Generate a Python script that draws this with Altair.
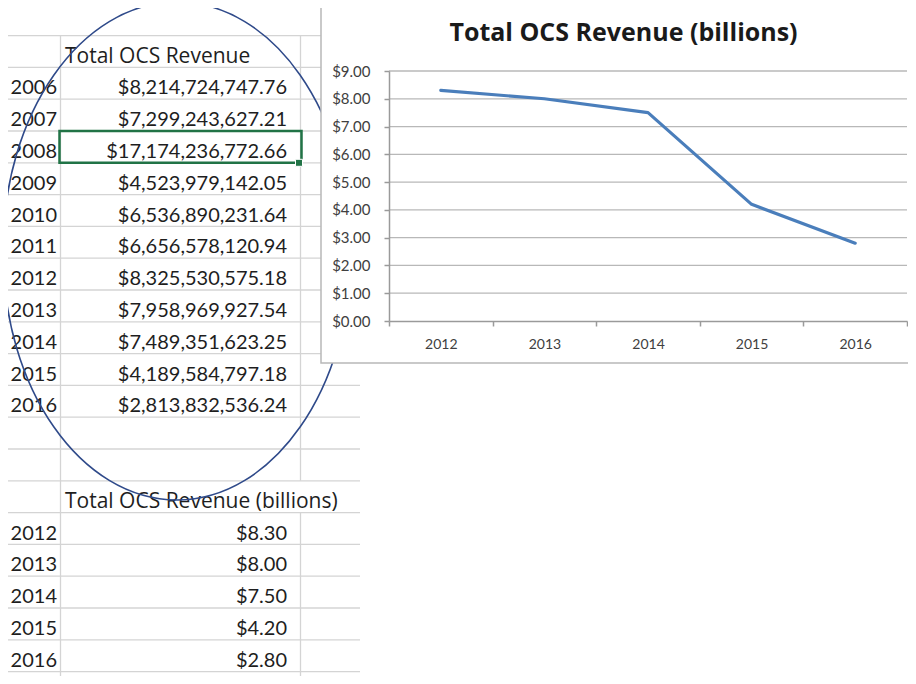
import altair as alt
import pandas as pd

# ---------------- data ----------------
years_top = ["2006", "2007", "2008", "2009", "2010", "2011",
             "2012", "2013", "2014", "2015", "2016"]
revenue_top = ["$8,214,724,747.76", "$7,299,243,627.21", "$17,174,236,772.66",
               "$4,523,979,142.05", "$6,536,890,231.64", "$6,656,578,120.94",
               "$8,325,530,575.18", "$7,958,969,927.54", "$7,489,351,623.25",
               "$4,189,584,797.18", "$2,813,832,536.24"]
years_bil = ["2012", "2013", "2014", "2015", "2016"]
revenue_bil = [8.30, 8.00, 7.50, 4.20, 2.80]
revenue_bil_text = ["$8.30", "$8.00", "$7.50", "$4.20", "$2.80"]
headers = ["Total OCS Revenue", "Total OCS Revenue (billions)"]
chart_title = ["Total OCS Revenue (billions)"]
y_ticks = [0, 1, 2, 3, 4, 5, 6, 7, 8, 9]

# ---------------- sheet layout (row indices) ----------------
HEAD1, HEAD2 = 0, 14
n_rows = 21
rows_top = pd.DataFrame({"r": [HEAD1 + 1 + i for i in range(len(years_top))],
                         "year": years_top, "val": revenue_top})
rows_bil = pd.DataFrame({"r": [HEAD2 + 1 + i for i in range(len(years_bil))],
                         "year": years_bil, "val": revenue_bil_text})
head_df = pd.DataFrame({"r": [HEAD1, HEAD2], "t": headers})
hline_df = pd.DataFrame({"b": [k - 0.5 for k in range(n_rows)]})
colA_df = pd.DataFrame({"b1": [-0.5], "b2": [n_rows + 0.5]})
colB_df = pd.DataFrame({"b1": [-0.5, HEAD2 + 0.5], "b2": [HEAD2 - 0.5, n_rows + 0.5]})
sel_df = pd.DataFrame({"b1": [2.5], "b2": [3.5]})
one_df = pd.DataFrame({"k": [0]})

chart_df = pd.DataFrame({"year": years_bil, "bil": revenue_bil})
grid_df = pd.DataFrame({"v": y_ticks[1:]})
title_df = pd.DataFrame({"t": chart_title})

FONT = "Lato"
HFONT = "Open Sans"
GRID_SHEET = "#D4D4D4"
TXT = "#1e1e1e"

row_scale = alt.Scale(domain=[0, 19], range=[43.5, 647.7], nice=False, zero=False)


def ry(field):
    return alt.Y(f"{field}:Q", scale=row_scale, axis=None)


hlines = alt.Chart(hline_df).mark_rule(color=GRID_SHEET, strokeWidth=1.3).encode(
    y=ry("b"), x=alt.value(0), x2=alt.value(352))
colA = alt.Chart(colA_df).mark_rule(color=GRID_SHEET, strokeWidth=1.3).encode(
    y=ry("b1"), y2="b2:Q", x=alt.value(52.5))
colB = alt.Chart(colB_df).mark_rule(color=GRID_SHEET, strokeWidth=1.3).encode(
    y=ry("b1"), y2="b2:Q", x=alt.value(292.5))

txt_kw = dict(color=TXT, baseline="alphabetic", dy=11)
yr_top = alt.Chart(rows_top).mark_text(align="right", font=FONT, fontSize=20, **txt_kw).encode(
    y=ry("r"), x=alt.value(49), text="year:N")
val_top = alt.Chart(rows_top).mark_text(align="right", font=FONT, fontSize=20, **txt_kw).encode(
    y=ry("r"), x=alt.value(279), text="val:N")
yr_bil = alt.Chart(rows_bil).mark_text(align="right", font=FONT, fontSize=20, **txt_kw).encode(
    y=ry("r"), x=alt.value(49), text="year:N")
val_bil = alt.Chart(rows_bil).mark_text(align="right", font=FONT, fontSize=20, **txt_kw).encode(
    y=ry("r"), x=alt.value(279), text="val:N")
heads = alt.Chart(head_df).mark_text(align="left", font=HFONT, fontSize=21, **txt_kw).encode(
    y=ry("r"), x=alt.value(57), text="t:N")

sel = alt.Chart(sel_df).mark_rect(filled=False, stroke="#217346", strokeWidth=2.5).encode(
    y=ry("b1"), y2="b2:Q", x=alt.value(51.5), x2=alt.value(293.5))
handle = alt.Chart(sel_df).mark_point(shape="square", filled=True, size=49, opacity=1,
                                      color="#217346", stroke="white", strokeWidth=1).encode(
    y=ry("b2"), x=alt.value(291))

ellipse_path = "M -0.699 0 A 0.699 1 0 1 1 0.699 0 A 0.699 1 0 1 1 -0.699 0 Z"
ellipse = alt.Chart(one_df).mark_point(shape=ellipse_path, size=248004, filled=False,
                                       opacity=1, stroke="#2F4A8A", strokeWidth=1.6).encode(
    x=alt.value(169), y=alt.value(243))

# ---------------- embedded chart ----------------
box = alt.Chart(one_df).mark_rect(fill="white", stroke="#B8B8B8", strokeWidth=1.5).encode(
    x=alt.value(313), x2=alt.value(910), y=alt.value(-10), y2=alt.value(355))

x_scale = alt.Scale(type="band", domain=years_bil, range=[381, 899],
                    paddingInner=0, paddingOuter=0)
y_scale = alt.Scale(domain=[0, 9], range=[313, 63], nice=False, zero=False)
AX = "#9A9A9A"
LBL = "#404040"

grid = alt.Chart(grid_df).mark_rule(color="#B8B8B8", strokeWidth=1.3).encode(
    y=alt.Y("v:Q", scale=y_scale, axis=None), x=alt.value(381), x2=alt.value(899))

line = alt.Chart(chart_df).mark_line(color="#4A7EBB", strokeWidth=3.2,
                                     strokeCap="round", strokeJoin="round").encode(
    x=alt.X("year:N", sort=years_bil, scale=x_scale, bandPosition=0.5,
            axis=alt.Axis(title=None, orient="bottom", offset=-355, tickBand="extent",
                          grid=False, domainColor=AX, domainWidth=1.5, tickColor=AX,
                          tickWidth=1.5, tickSize=5, labelFont=FONT, labelFontSize=14,
                          labelColor=LBL, labelPadding=11, labelAngle=0, zindex=1)),
    y=alt.Y("bil:Q", scale=y_scale,
            axis=alt.Axis(title=None, orient="left", offset=-381, values=y_ticks,
                          format="$.2f", grid=False, domainColor=AX, domainWidth=1.5,
                          tickColor=AX, tickWidth=1.5, tickSize=5, labelFont=FONT,
                          labelFontSize=15, labelColor=LBL, labelPadding=14, zindex=1)),
)

title = alt.Chart(title_df).mark_text(font=HFONT, fontSize=25, fontWeight="bold",
                                      color="#1a1a1a", align="center",
                                      baseline="alphabetic").encode(
    text="t:N", x=alt.value(615.5), y=alt.value(33))

chart = alt.layer(
    hlines, colA, colB, yr_top, val_top, yr_bil, val_bil, heads, sel, handle, ellipse,
    box, grid, line, title
).resolve_scale(x="independent", y="independent").properties(
    width=900, height=668, padding=0, autosize=alt.AutoSizeParams(type="none")
).configure_view(stroke="transparent")

chart.save("out.html", embed_options={"renderer": "svg", "actions": False})
